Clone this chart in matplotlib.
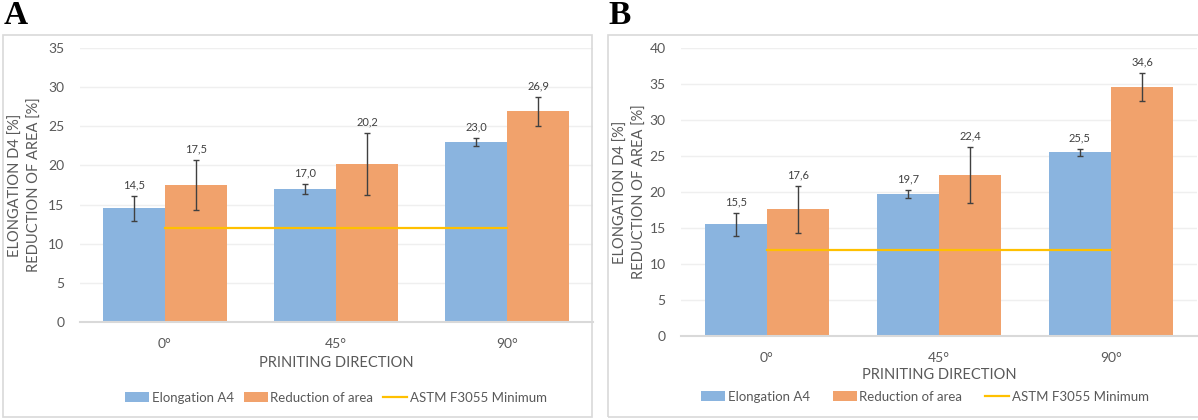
import matplotlib.pyplot as plt
import numpy as np
from matplotlib.patches import Rectangle

plt.rcParams['font.family'] = ['Lato', 'DejaVu Sans']

directions = ['0°', '45°', '90°']
astm_min = 12.0

# panel A
a_elong = [14.5, 17.0, 23.0]
a_elong_err = [1.55, 0.6, 0.5]
a_ra = [17.5, 20.2, 26.9]
a_ra_err = [3.2, 3.95, 1.9]

# panel B
b_elong = [15.5, 19.7, 25.5]
b_elong_err = [1.65, 0.6, 0.5]
b_ra = [17.6, 22.4, 34.6]
b_ra_err = [3.3, 3.9, 1.9]

W, H = 1198, 420
BLUE = '#8AB4DF'
ORANGE = '#F1A26C'
YELLOW = '#FFC000'
GREY = '#595959'
DARK = '#404040'

fig = plt.figure(figsize=(W / 100, H / 100), dpi=100)


def px_axes(x0, x1, ytop, ybot):
    return fig.add_axes([x0 / W, 1 - ybot / H, (x1 - x0) / W, (ybot - ytop) / H])


def fig_text(x, y, s, **kw):
    fig.text(x / W, 1 - y / H, s, **kw)


def draw_panel(ax, elong, elong_err, ra, ra_err, ymax):
    x = np.arange(len(directions))
    w = 0.363
    ax.bar(x - w / 2, elong, w, color=BLUE, zorder=2, label='Elongation A4')
    ax.bar(x + w / 2, ra, w, color=ORANGE, zorder=2, label='Reduction of area')
    ax.errorbar(x - w / 2, elong, yerr=elong_err, fmt='none', ecolor=DARK,
                elinewidth=1, capsize=2.5, capthick=1, zorder=3)
    ax.errorbar(x + w / 2, ra, yerr=ra_err, fmt='none', ecolor=DARK,
                elinewidth=1, capsize=2.5, capthick=1, zorder=3)
    ax.plot(x, [astm_min] * len(x), color=YELLOW, lw=1.6, zorder=4,
            label='ASTM F3055 Minimum')

    for xs, vals, errs in [(x - w / 2, elong, elong_err), (x + w / 2, ra, ra_err)]:
        for xi, v, e in zip(xs, vals, errs):
            ax.annotate(f'{v:.1f}'.replace('.', ','), (xi, v + e),
                        xytext=(0, 4), textcoords='offset points',
                        ha='center', va='bottom', fontsize=8, color=DARK)

    ax.set_xlim(-0.5, len(directions) - 0.5)
    ax.set_ylim(0, ymax)
    ax.set_yticks(np.arange(0, ymax + 1, 5))
    ax.set_xticks([])
    ax.grid(axis='y', color='#EFEFEF', lw=1, zorder=0)
    for side in ['top', 'right', 'left']:
        ax.spines[side].set_visible(False)
    ax.spines['bottom'].set_color('#D9D9D9')
    ax.spines['bottom'].set_linewidth(1.5)
    ax.tick_params(axis='y', length=0, labelsize=10, labelcolor=GREY, pad=11)


# frames around each panel
fig.patches.append(Rectangle((3 / W, 1 - 417 / H), 589 / W, 382 / H,
                             transform=fig.transFigure, fill=False,
                             edgecolor='#D9D9D9', lw=1.2))
fig.patches.append(Rectangle((608 / W, 1 - 417 / H), 600 / W, 382 / H,
                             transform=fig.transFigure, fill=False,
                             edgecolor='#D9D9D9', lw=1.2))

ax_a = px_axes(79.5, 592.5, 48, 322)
draw_panel(ax_a, a_elong, a_elong_err, a_ra, a_ra_err, 35)
ax_b = px_axes(681, 1197, 48, 336)
draw_panel(ax_b, b_elong, b_elong_err, b_ra, b_ra_err, 40)

ylab = 'ELONGATION D4 [%]\nREDUCTION OF AREA [%]'

# panel A texts
for cx, s in zip([165, 336, 507], directions):
    fig_text(cx, 344, s, ha='center', va='center', fontsize=10, color=GREY)
fig_text(336, 363, 'PRINITING DIRECTION', ha='center', va='center', fontsize=10.5, color=GREY)
fig_text(25, 185, ylab, rotation=90, ha='center', va='center', fontsize=10.5,
         color=GREY, multialignment='center', linespacing=1.45)
fig_text(4, 16, 'A', ha='left', va='center', fontsize=24, fontweight='bold',
         family='Liberation Serif')
h, l = ax_a.get_legend_handles_labels()
order = [1, 2, 0]
fig.legend([h[i] for i in order], [l[i] for i in order], loc='center',
           bbox_to_anchor=(336 / W, 1 - 398 / H), ncol=3, frameon=False,
           fontsize=9.5, labelcolor=GREY, handlelength=1.8, handletextpad=0.2,
           columnspacing=0.75, handleheight=0.8)

# panel B texts
for cx, s in zip([767, 939, 1111], directions):
    fig_text(cx, 358, s, ha='center', va='center', fontsize=10, color=GREY)
fig_text(939, 375, 'PRINITING DIRECTION', ha='center', va='center', fontsize=10.5, color=GREY)
fig_text(630, 192, ylab, rotation=90, ha='center', va='center', fontsize=10.5,
         color=GREY, multialignment='center', linespacing=1.45)
fig_text(608, 16, 'B', ha='left', va='center', fontsize=24, fontweight='bold',
         family='Liberation Serif')
h, l = ax_b.get_legend_handles_labels()
fig.legend([h[i] for i in order], [l[i] for i in order], loc='center',
           bbox_to_anchor=(925 / W, 1 - 397 / H), ncol=3, frameon=False,
           fontsize=9.5, labelcolor=GREY, handlelength=1.8, handletextpad=0.2,
           columnspacing=1.75, handleheight=0.8)

fig.savefig('out.png', dpi=100)
